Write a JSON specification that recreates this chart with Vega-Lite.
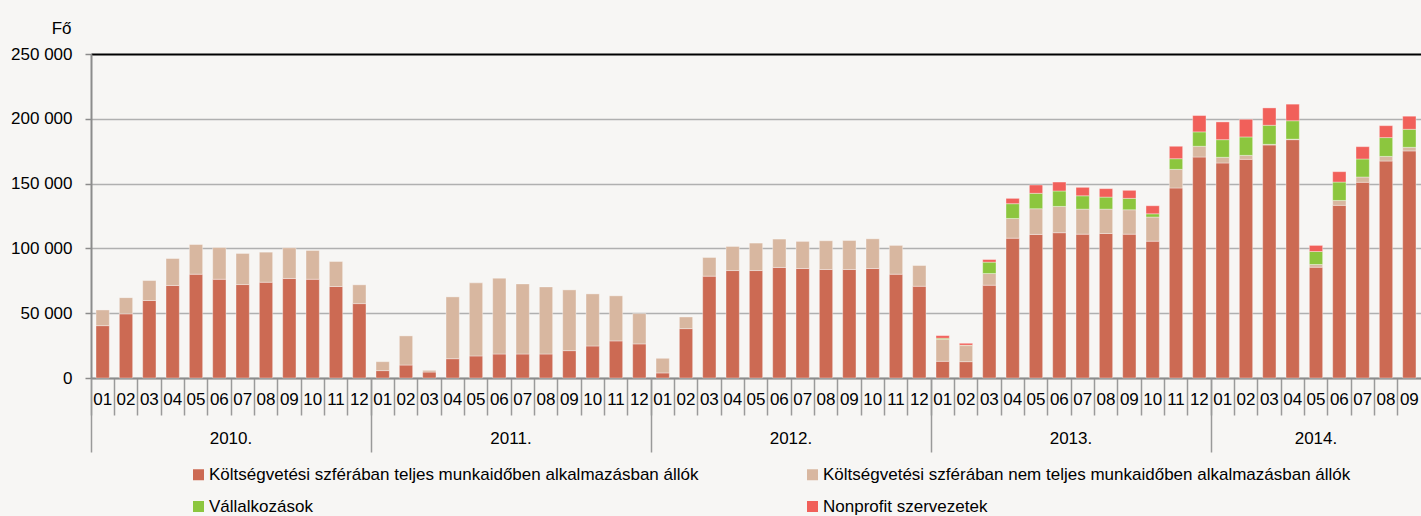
{
  "$schema": "https://vega.github.io/schema/vega-lite/v6.json",
  "width": 1330,
  "height": 324,
  "autosize": "none",
  "padding": {"left": 91, "top": 54, "right": 0, "bottom": 138},
  "background": "#f7f6f4",
  "config": {"view": {"stroke": null}, "font": "Liberation Sans, Arial, sans-serif"},
  "data": {"values": [
    {"honap": "2010-01", "teljes": 40400, "reszmunka": 12100, "piaci": 0, "nonprofit": 0},
    {"honap": "2010-02", "teljes": 49500, "reszmunka": 12500, "piaci": 0, "nonprofit": 0},
    {"honap": "2010-03", "teljes": 59800, "reszmunka": 15400, "piaci": 0, "nonprofit": 0},
    {"honap": "2010-04", "teljes": 71400, "reszmunka": 20800, "piaci": 0, "nonprofit": 0},
    {"honap": "2010-05", "teljes": 80100, "reszmunka": 22900, "piaci": 0, "nonprofit": 0},
    {"honap": "2010-06", "teljes": 76200, "reszmunka": 24500, "piaci": 0, "nonprofit": 0},
    {"honap": "2010-07", "teljes": 72100, "reszmunka": 24000, "piaci": 0, "nonprofit": 0},
    {"honap": "2010-08", "teljes": 73900, "reszmunka": 23200, "piaci": 0, "nonprofit": 0},
    {"honap": "2010-09", "teljes": 76800, "reszmunka": 23700, "piaci": 0, "nonprofit": 0},
    {"honap": "2010-10", "teljes": 76200, "reszmunka": 22200, "piaci": 0, "nonprofit": 0},
    {"honap": "2010-11", "teljes": 70600, "reszmunka": 19300, "piaci": 0, "nonprofit": 0},
    {"honap": "2010-12", "teljes": 57400, "reszmunka": 14500, "piaci": 0, "nonprofit": 0},
    {"honap": "2011-01", "teljes": 5700, "reszmunka": 6900, "piaci": 0, "nonprofit": 0},
    {"honap": "2011-02", "teljes": 10000, "reszmunka": 22500, "piaci": 0, "nonprofit": 0},
    {"honap": "2011-03", "teljes": 4600, "reszmunka": 1300, "piaci": 0, "nonprofit": 0},
    {"honap": "2011-04", "teljes": 14900, "reszmunka": 47700, "piaci": 0, "nonprofit": 0},
    {"honap": "2011-05", "teljes": 17000, "reszmunka": 56400, "piaci": 0, "nonprofit": 0},
    {"honap": "2011-06", "teljes": 18500, "reszmunka": 58500, "piaci": 0, "nonprofit": 0},
    {"honap": "2011-07", "teljes": 18500, "reszmunka": 54100, "piaci": 0, "nonprofit": 0},
    {"honap": "2011-08", "teljes": 18500, "reszmunka": 51800, "piaci": 0, "nonprofit": 0},
    {"honap": "2011-09", "teljes": 21100, "reszmunka": 46900, "piaci": 0, "nonprofit": 0},
    {"honap": "2011-10", "teljes": 24700, "reszmunka": 40200, "piaci": 0, "nonprofit": 0},
    {"honap": "2011-11", "teljes": 28600, "reszmunka": 34800, "piaci": 0, "nonprofit": 0},
    {"honap": "2011-12", "teljes": 26300, "reszmunka": 23400, "piaci": 0, "nonprofit": 0},
    {"honap": "2012-01", "teljes": 3900, "reszmunka": 11300, "piaci": 0, "nonprofit": 0},
    {"honap": "2012-02", "teljes": 38100, "reszmunka": 9000, "piaci": 0, "nonprofit": 0},
    {"honap": "2012-03", "teljes": 78600, "reszmunka": 14400, "piaci": 0, "nonprofit": 0},
    {"honap": "2012-04", "teljes": 82900, "reszmunka": 18600, "piaci": 0, "nonprofit": 0},
    {"honap": "2012-05", "teljes": 82900, "reszmunka": 21200, "piaci": 0, "nonprofit": 0},
    {"honap": "2012-06", "teljes": 85300, "reszmunka": 21900, "piaci": 0, "nonprofit": 0},
    {"honap": "2012-07", "teljes": 84500, "reszmunka": 20900, "piaci": 0, "nonprofit": 0},
    {"honap": "2012-08", "teljes": 83700, "reszmunka": 22200, "piaci": 0, "nonprofit": 0},
    {"honap": "2012-09", "teljes": 83700, "reszmunka": 22400, "piaci": 0, "nonprofit": 0},
    {"honap": "2012-10", "teljes": 84500, "reszmunka": 22900, "piaci": 0, "nonprofit": 0},
    {"honap": "2012-11", "teljes": 80100, "reszmunka": 22200, "piaci": 0, "nonprofit": 0},
    {"honap": "2012-12", "teljes": 70800, "reszmunka": 16000, "piaci": 0, "nonprofit": 0},
    {"honap": "2013-01", "teljes": 12900, "reszmunka": 17000, "piaci": 800, "nonprofit": 2000},
    {"honap": "2013-02", "teljes": 12600, "reszmunka": 12400, "piaci": 300, "nonprofit": 1500},
    {"honap": "2013-03", "teljes": 71600, "reszmunka": 9000, "piaci": 8800, "nonprofit": 2000},
    {"honap": "2013-04", "teljes": 107900, "reszmunka": 15200, "piaci": 11400, "nonprofit": 4100},
    {"honap": "2013-05", "teljes": 110800, "reszmunka": 19800, "piaci": 11900, "nonprofit": 6400},
    {"honap": "2013-06", "teljes": 112100, "reszmunka": 20300, "piaci": 11900, "nonprofit": 6900},
    {"honap": "2013-07", "teljes": 111000, "reszmunka": 19300, "piaci": 10300, "nonprofit": 6500},
    {"honap": "2013-08", "teljes": 111500, "reszmunka": 18800, "piaci": 9300, "nonprofit": 6500},
    {"honap": "2013-09", "teljes": 111000, "reszmunka": 18800, "piaci": 8800, "nonprofit": 6200},
    {"honap": "2013-10", "teljes": 105600, "reszmunka": 18600, "piaci": 2500, "nonprofit": 6200},
    {"honap": "2013-11", "teljes": 146600, "reszmunka": 14400, "piaci": 8200, "nonprofit": 9600},
    {"honap": "2013-12", "teljes": 170500, "reszmunka": 8300, "piaci": 11100, "nonprofit": 12600},
    {"honap": "2014-01", "teljes": 165900, "reszmunka": 4400, "piaci": 13600, "nonprofit": 13700},
    {"honap": "2014-02", "teljes": 168700, "reszmunka": 3100, "piaci": 14200, "nonprofit": 13600},
    {"honap": "2014-03", "teljes": 179800, "reszmunka": 500, "piaci": 14700, "nonprofit": 13400},
    {"honap": "2014-04", "teljes": 183900, "reszmunka": 400, "piaci": 14200, "nonprofit": 12800},
    {"honap": "2014-05", "teljes": 85500, "reszmunka": 2100, "piaci": 10000, "nonprofit": 4700},
    {"honap": "2014-06", "teljes": 133200, "reszmunka": 3800, "piaci": 14200, "nonprofit": 8000},
    {"honap": "2014-07", "teljes": 151000, "reszmunka": 4100, "piaci": 13900, "nonprofit": 9500},
    {"honap": "2014-08", "teljes": 167400, "reszmunka": 3600, "piaci": 14500, "nonprofit": 9200},
    {"honap": "2014-09", "teljes": 175200, "reszmunka": 2800, "piaci": 13900, "nonprofit": 10100}
  ]},
  "transform": [
    {"fold": ["teljes", "reszmunka", "piaci", "nonprofit"], "as": ["kategoria", "ertek"]},
    {"filter": "datum.ertek > 0"}
  ],
  "layer": [
    {
      "mark": {"type": "bar", "width": {"band": 0.57}, "stroke": "#ffffff", "strokeOpacity": 0.35, "strokeWidth": 1},
      "encoding": {
        "x": {
          "field": "honap", "type": "ordinal", "sort": null,
          "scale": {"paddingInner": 0, "paddingOuter": 0},
          "axis": {
            "orient": "bottom", "title": null, "bandPosition": 0, "grid": false,
            "domainColor": "#8c8c8c", "domainWidth": 2,
            "tickColor": "#9a9a9a", "tickWidth": 1.5, "tickSize": 37,
            "labelExpr": "substring(datum.value, 5, 7)",
            "labelPadding": -24,
            "labelFontSize": 17, "labelColor": "#000000", "labelAngle": 0,
            "labelAlign": "center", "labelBaseline": "top",
            "labelOverlap": false, "labelBound": false
          }
        },
        "y": {
          "field": "ertek", "type": "quantitative", "stack": "zero",
          "scale": {"domain": [0, 250000], "nice": false},
          "axis": {
            "title": "Fő", "titleAngle": 0, "titleAlign": "right", "titleBaseline": "alphabetic",
            "titleX": -20, "titleY": -21, "titleFontSize": 17, "titleFontWeight": "normal", "titleColor": "#000000",
            "values": [0, 50000, 100000, 150000, 200000, 250000],
            "labelExpr": "replace(format(datum.value, ','), ',', ' ')",
            "labelFontSize": 17, "labelColor": "#000000", "labelPadding": 13,
            "tickSize": 6, "tickColor": "#8c8c8c", "tickWidth": 1.5,
            "domainColor": "#8c8c8c", "domainWidth": 2,
            "grid": true,
            "gridColor": {"condition": {"test": "datum.value == 250000", "value": "#000000"}, "value": "#b0b0b0"},
            "gridWidth": {"condition": {"test": "datum.value == 250000", "value": 2}, "value": 1.5}
          }
        },
        "color": {
          "field": "kategoria", "type": "nominal",
          "scale": {"domain": ["teljes", "reszmunka", "piaci", "nonprofit"], "range": ["#cc6a53", "#d8b7a0", "#8cc63e", "#f1605a"]},
          "legend": {
            "title": null, "orient": "none", "legendX": 99, "legendY": 412,
            "direction": "horizontal", "columns": 2, "columnPadding": 105, "rowPadding": 14,
            "symbolType": "square", "symbolSize": 121, "symbolStrokeWidth": 0,
            "labelFontSize": 17, "labelColor": "#000000", "labelOffset": 2, "labelLimit": 900,
            "labelExpr": "datum.label == 'teljes' ? 'Költségvetési szférában teljes munkaidőben alkalmazásban állók' : datum.label == 'reszmunka' ? 'Költségvetési szférában nem teljes munkaidőben alkalmazásban állók' : datum.label == 'piaci' ? 'Vállalkozások' : 'Nonprofit szervezetek'"
          }
        },
        "order": {"field": "kategoria", "sort": "descending"}
      }
    },
    {
      "mark": {"type": "bar", "opacity": 0},
      "encoding": {
        "x": {
          "field": "honap", "type": "ordinal", "sort": null,
          "axis": {
            "orient": "bottom", "title": null, "bandPosition": 0, "grid": false, "domain": false,
            "values": ["2010-01", "2011-01", "2012-01", "2013-01", "2014-01"],
            "tickColor": "#9a9a9a", "tickWidth": 1.5, "tickSize": 74,
            "labelExpr": "substring(datum.value, 0, 4) + '.'",
            "labelOffset": {"condition": {"test": "datum.value == '2014-01'", "value": 93.3}, "value": 128.3},
            "labelPadding": -22,
            "labelFontSize": 17, "labelColor": "#000000", "labelAngle": 0,
            "labelAlign": "center", "labelBaseline": "top",
            "labelOverlap": false, "labelBound": false
          }
        }
      }
    }
  ],
  "resolve": {"axis": {"x": "independent"}}
}
